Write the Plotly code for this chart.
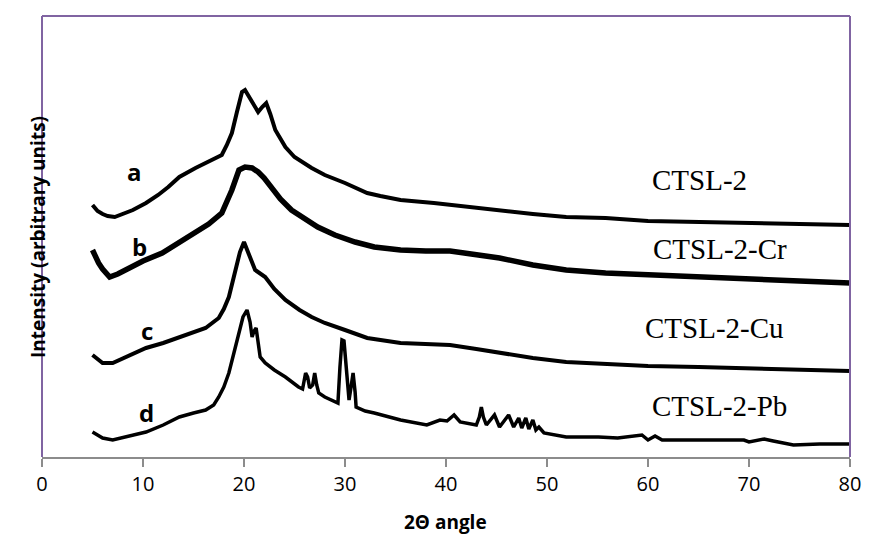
import plotly.graph_objects as go

# XRD patterns, intensities in arbitrary (stacked) units
a_x = [5.0, 5.5, 6.0, 6.5, 7.2, 8.0, 9.0, 10.3, 11.5, 12.5, 13.6, 15.2, 16.5, 17.8, 18.3, 18.8, 19.3, 19.8,
       20.1, 20.5, 21.0, 21.4, 21.8, 22.2, 22.6, 23.1, 24.1, 25.0, 26.7, 28.0, 30.0, 32.2, 33.5, 35.5, 38.8,
       40.5, 42.1, 45.3, 48.6, 51.9, 55.8, 60, 65, 70, 75, 80]
a_y = [252, 246, 243, 241, 240, 243, 247, 254, 262, 270, 280, 289, 295, 302, 312, 324, 345, 365,
       367, 360, 350, 345, 350, 354, 343, 327, 310, 300, 289, 282, 274, 264, 261, 257, 254,
       252, 250, 247, 243, 240, 239, 236, 235, 234, 233, 232]

b_x = [5.0, 5.3, 5.6, 6.0, 6.7, 7.5, 8.7, 10.0, 11.9, 13.5, 15.2, 16.5, 17.8, 18.3, 18.8, 19.5, 20.1, 20.8,
       21.4, 22.0, 22.7, 23.6, 24.7, 26.0, 27.3, 29.0, 31.0, 32.9, 35.5, 38.0, 40.4, 42.5, 45.3, 48.6, 51.9,
       55.8, 60, 65, 70, 75, 80]
b_y = [207, 200, 194, 188, 180, 183, 190, 196, 204, 214, 224, 233, 244, 255, 267, 287, 290, 289,
       285, 279, 270, 258, 247, 238, 230, 222, 215, 210, 207, 206, 206, 203, 199, 192, 187,
       184, 182, 180, 178, 176, 174]

c_x = [5.0, 5.5, 6.0, 7.0, 8.5, 10.3, 12.0, 13.6, 15.0, 16.2, 17.5, 18.0, 18.5, 19.2, 19.6, 20.0, 20.4,
       21.1, 22.1, 23.0, 24.1, 25.5, 26.7, 28.0, 30.0, 32.2, 35.5, 38.0, 40.4, 43.0, 45.3, 48.6, 51.9, 55.8,
       60, 65, 70, 75, 80]
c_y = [102, 98, 94, 94, 101, 109, 114, 120, 125, 129, 139, 148, 160, 190, 205, 215, 205,
       187, 180, 168, 157, 147, 140, 134, 127, 119, 114, 113, 112, 108, 104, 99, 95, 93,
       91, 90, 89, 87, 86]

d_x = [5.0, 5.5, 6.0, 7.0, 8.5, 10.3, 12.0, 13.6, 15.0, 16.2, 17.0, 17.5, 18.0, 18.5, 19.0, 19.5, 19.9,
       20.3, 20.6, 20.8, 21.0, 21.2, 21.4, 21.6, 22.1, 23.0, 24.1, 25.0, 25.4, 25.8, 26.1, 26.3, 26.5, 26.8,
       27.0, 27.2, 27.4, 28.0, 29.0, 29.3, 29.5, 29.7, 29.9, 30.1, 30.3, 30.4, 30.6, 30.8, 31.0, 31.1, 32.0,
       32.9, 35.5, 38.1, 39.4, 40.1, 40.8, 41.4, 43.0, 43.3, 43.5, 43.7, 44.0, 44.8, 45.3, 46.2, 46.7, 47.2,
       47.5, 47.9, 48.2, 48.6, 48.9, 49.2, 49.7, 51.9, 55.1, 57.0, 59.4, 60.0, 60.7, 61.4, 65, 69.5, 70,
       71.5, 72.4, 74.4, 77, 80]
d_y = [25, 22, 19, 17, 21, 25, 32, 40, 44, 47, 52, 60, 70, 84, 104, 124, 140,
       147, 135, 120, 126, 129, 115, 100, 94, 87, 80, 73, 70, 68, 84, 80, 69, 72,
       84, 72, 64, 60, 55, 54, 90, 117, 116, 90, 60, 57, 70, 84, 65, 50, 46,
       44, 37, 32, 37, 36, 42, 35, 32, 40, 50, 40, 32, 42, 30, 42, 30, 39,
       29, 39, 28, 37, 27, 30, 24, 20, 20, 19, 22, 17, 21, 17, 17, 17, 15,
       18, 16, 12, 13, 13]

series = [("CTSL-2", a_x, a_y, 4.0), ("CTSL-2-Cr", b_x, b_y, 5.5),
          ("CTSL-2-Cu", c_x, c_y, 4.0), ("CTSL-2-Pb", d_x, d_y, 3.5)]

letters = ["a", "b", "c", "d"]
letter_x = [9.2, 9.7, 10.35, 10.35]
letter_y = [286, 211, 127, 45]

name_x = [65.1, 67.1, 66.6, 67.1]
name_y = [279, 210, 131, 53]

x_ticks = [0, 10, 20, 30, 40, 50, 60, 70, 80]

fig = go.Figure()
for name, xs, ys, w in series:
    fig.add_trace(go.Scatter(x=xs, y=ys, mode="lines", name=name,
                             line=dict(color="black", width=w), showlegend=False))

for t, xx, yy in zip(letters, letter_x, letter_y):
    fig.add_annotation(x=xx, y=yy, text=t, showarrow=False,
                       font=dict(family="Open Sans", size=24, color="black", weight="bold"))

for (name, _, _, _), xx, yy in zip(series, name_x, name_y):
    fig.add_annotation(x=xx, y=yy, text=name, showarrow=False, yshift=-2,
                       font=dict(family="Liberation Serif", size=29, color="black"))

# axis titles
fig.add_annotation(xref="paper", yref="paper", x=0.499, y=-0.181, text="2\u0398 angle",
                   showarrow=False, font=dict(family="Open Sans", size=19, color="black", weight="bold"))
fig.add_annotation(xref="paper", yref="paper", x=-0.0242, y=0.5, text="Intensity (arbitrary units)",
                   textangle=-90, showarrow=False,
                   font=dict(family="Open Sans", size=19, color="black", weight="bold"))

# purple frame on left, top and right
frame = "#8064A2"
for x0, y0, x1, y1 in [(0, 0, 0, 1), (0, 1, 1, 1), (1, 0, 1, 1)]:
    fig.add_shape(type="line", xref="paper", yref="paper", x0=x0, y0=y0, x1=x1, y1=y1,
                  line=dict(color=frame, width=2))

fig.update_layout(
    width=873, height=549,
    margin=dict(l=42, r=17, t=16, b=92),
    plot_bgcolor="white", paper_bgcolor="white",
    xaxis=dict(range=[0, 80], tickvals=x_ticks, showgrid=False, zeroline=False,
               showline=True, linecolor="#8C8C8C", linewidth=2,
               ticks="outside", ticklen=8, tickwidth=2, tickcolor="#8C8C8C",
               tickfont=dict(family="Open Sans", size=20, color="black")),
    yaxis=dict(range=[0, 441], showgrid=False, zeroline=False, showticklabels=False,
               showline=False, ticks=""),
)

fig.write_html("out.html")
